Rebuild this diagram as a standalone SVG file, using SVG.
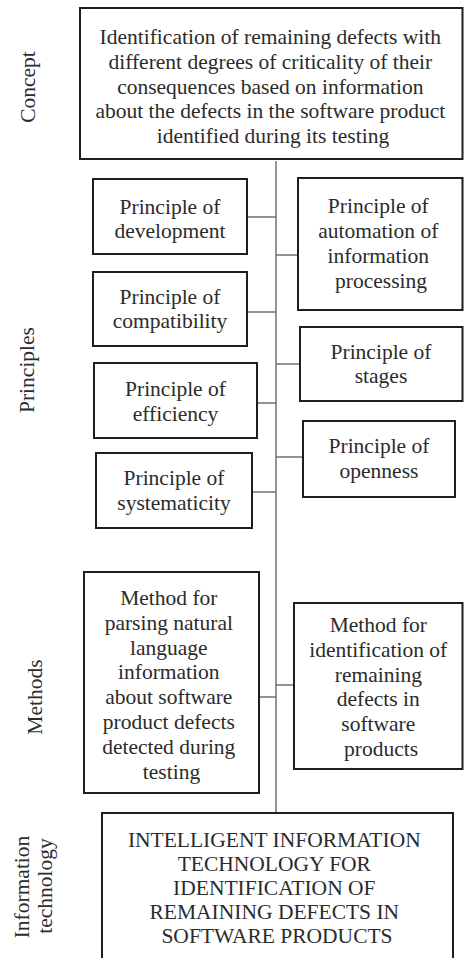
<svg xmlns="http://www.w3.org/2000/svg" width="464" height="958" viewBox="0 0 464 958">
  <style>
    .box { fill: #ffffff; stroke: #1e1e1e; stroke-width: 2; }
    .lbl { font-family: 'Liberation Serif', 'DejaVu Serif', serif; font-size: 21.5px; fill: #2b2b2b; text-anchor: middle; }
    .side { font-family: 'Liberation Serif', 'DejaVu Serif', serif; font-size: 21.5px; fill: #2b2b2b; text-anchor: middle; }
    .conn { stroke: #666666; stroke-width: 1.4; fill: none; }
  </style>
  <rect width="464" height="958" fill="#ffffff"/>

  <!-- level captions -->
  <g id="captions">
    <text class="side" font-family="Liberation Serif" transform="translate(35,87) rotate(-90)">Concept</text>
    <text class="side" transform="translate(33.5,370) rotate(-90)">Principles</text>
    <text class="side" transform="translate(41.5,697) rotate(-90)">Methods</text>
    <text class="side" transform="translate(28.5,887) rotate(-90)">Information</text>
    <text class="side" transform="translate(51.5,886) rotate(-90)">technology</text>
  </g>

  <!-- connectors -->
  <g id="connectors">
    <line class="conn" x1="276" y1="161" x2="276" y2="813"/>
    <line class="conn" x1="247" y1="217" x2="276" y2="217"/>
    <line class="conn" x1="276" y1="255" x2="298" y2="255"/>
    <line class="conn" x1="247" y1="312" x2="276" y2="312"/>
    <line class="conn" x1="276" y1="364" x2="300" y2="364"/>
    <line class="conn" x1="257" y1="403" x2="276" y2="403"/>
    <line class="conn" x1="276" y1="457" x2="303" y2="457"/>
    <line class="conn" x1="252" y1="492" x2="276" y2="492"/>
    <line class="conn" x1="259" y1="697" x2="276" y2="697"/>
    <line class="conn" x1="276" y1="685" x2="294" y2="685"/>
  </g>

  <g id="concept">
    <rect class="box" x="80" y="8" width="382.5" height="151"/>
    <text class="lbl" x="273">
      <tspan x="273" y="44">Identification of remaining defects with</tspan>
      <tspan x="273" y="68.8">different degrees of criticality of their</tspan>
      <tspan x="273" y="93.6">consequences based on information</tspan>
      <tspan x="273" y="118.4">about the defects in the software product</tspan>
      <tspan x="273" y="143.2">identified during its testing</tspan>
    </text>
  </g>

  <g id="principle-development">
    <rect class="box" x="93" y="179" width="154" height="75"/>
    <text class="lbl"><tspan x="170" y="213.5">Principle of</tspan><tspan x="170" y="238.3">development</tspan></text>
  </g>

  <g id="principle-automation">
    <rect class="box" x="298" y="178" width="164.5" height="132"/>
    <text class="lbl">
      <tspan x="381" y="213.3">Principle of</tspan>
      <tspan x="381" y="238.1">automation of</tspan>
      <tspan x="381" y="262.9">information</tspan>
      <tspan x="381" y="287.7">processing</tspan>
    </text>
  </g>

  <g id="principle-compatibility">
    <rect class="box" x="93" y="272" width="154" height="74"/>
    <text class="lbl"><tspan x="170" y="303.5">Principle of</tspan><tspan x="170" y="328.3">compatibility</tspan></text>
  </g>

  <g id="principle-stages">
    <rect class="box" x="300" y="327" width="162.5" height="74"/>
    <text class="lbl"><tspan x="381" y="358.5">Principle of</tspan><tspan x="381" y="383.3">stages</tspan></text>
  </g>

  <g id="principle-efficiency">
    <rect class="box" x="94" y="363" width="163" height="75"/>
    <text class="lbl"><tspan x="175.5" y="396">Principle of</tspan><tspan x="175.5" y="420.8">efficiency</tspan></text>
  </g>

  <g id="principle-openness">
    <rect class="box" x="303" y="421" width="152" height="76"/>
    <text class="lbl"><tspan x="379" y="453">Principle of</tspan><tspan x="379" y="477.8">openness</tspan></text>
  </g>

  <g id="principle-systematicity">
    <rect class="box" x="96" y="453" width="156" height="75"/>
    <text class="lbl"><tspan x="174" y="485">Principle of</tspan><tspan x="174" y="509.8">systematicity</tspan></text>
  </g>

  <g id="method-parsing">
    <rect class="box" x="84" y="572" width="175" height="221"/>
    <text class="lbl">
      <tspan x="171.5" y="605">Method for</tspan>
      <tspan x="171.5" y="629.8">parsing natural</tspan>
      <tspan x="171.5" y="654.6">language</tspan>
      <tspan x="171.5" y="679.4">information</tspan>
      <tspan x="171.5" y="704.2">about software</tspan>
      <tspan x="171.5" y="729">product defects</tspan>
      <tspan x="171.5" y="753.8">detected during</tspan>
      <tspan x="171.5" y="778.6">testing</tspan>
    </text>
  </g>

  <g id="method-identification">
    <rect class="box" x="294" y="603" width="168.5" height="166"/>
    <text class="lbl">
      <tspan x="381" y="632">Method for</tspan>
      <tspan x="381" y="656.8">identification of</tspan>
      <tspan x="381" y="681.6">remaining</tspan>
      <tspan x="381" y="706.4">defects in</tspan>
      <tspan x="381" y="731.2">software</tspan>
      <tspan x="381" y="756">products</tspan>
    </text>
  </g>

  <g id="information-technology">
    <rect class="box" x="102" y="813" width="351" height="160"/>
    <text class="lbl">
      <tspan x="277" y="847">INTELLIGENT INFORMATION</tspan>
      <tspan x="277" y="871">TECHNOLOGY FOR</tspan>
      <tspan x="277" y="895">IDENTIFICATION OF</tspan>
      <tspan x="277" y="919">REMAINING DEFECTS IN</tspan>
      <tspan x="277" y="943">SOFTWARE PRODUCTS</tspan>
    </text>
  </g>
</svg>
